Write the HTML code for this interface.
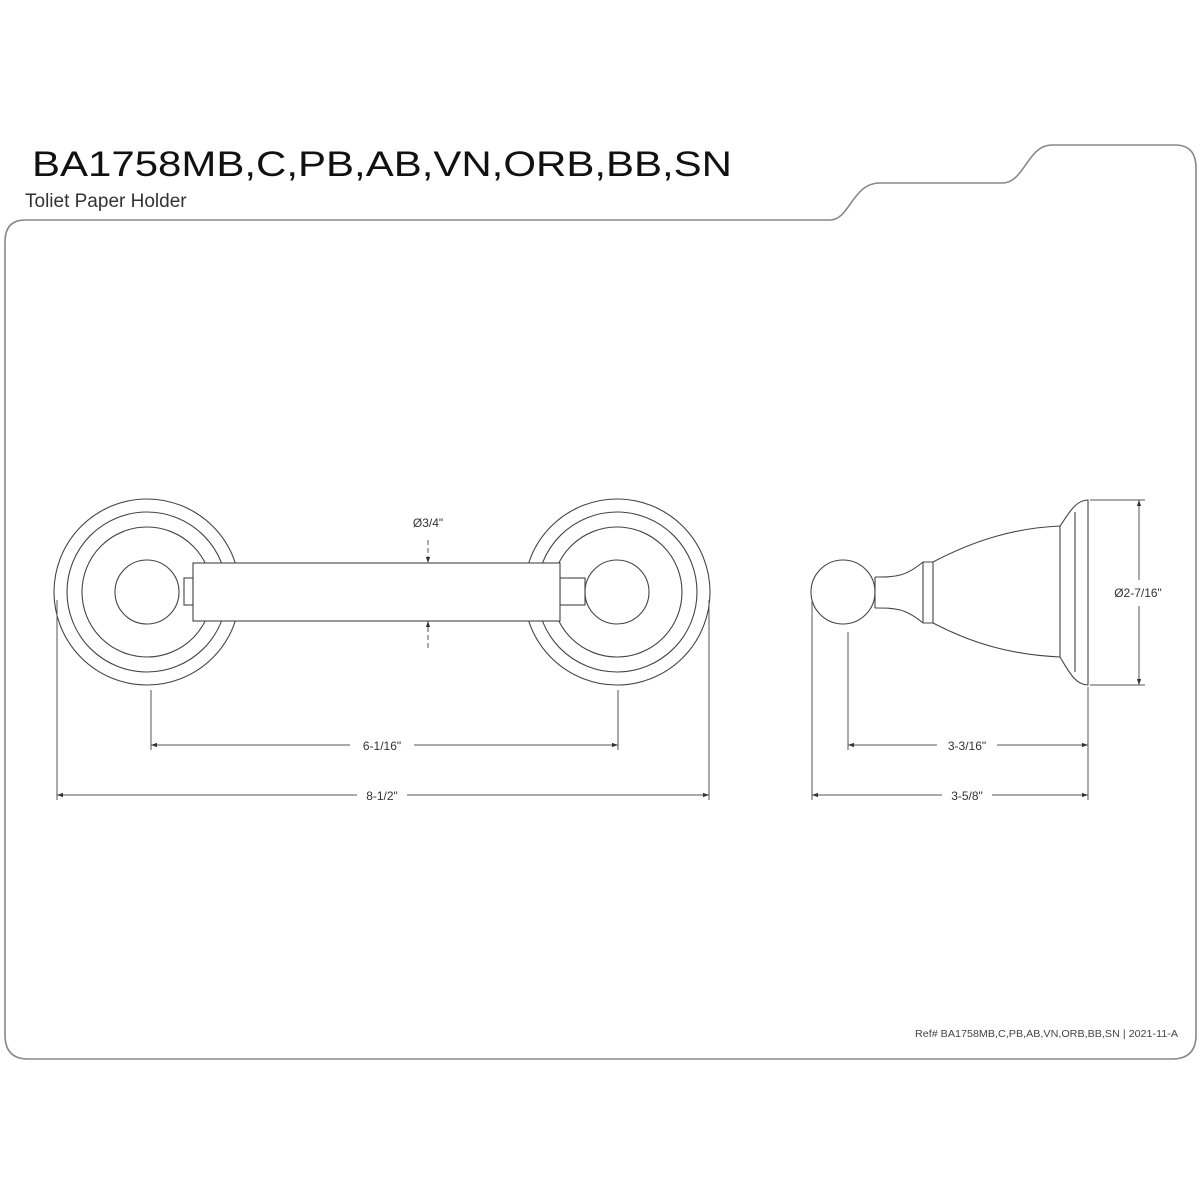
<!DOCTYPE html>
<html><head><meta charset="utf-8"><style>html,body{margin:0;padding:0;background:#fff}svg{display:block}</style></head>
<body>
<svg width="1200" height="1200" viewBox="0 0 1200 1200" xmlns="http://www.w3.org/2000/svg" font-family="Liberation Sans, sans-serif">
<defs>
<marker id="a" viewBox="0 0 10 10" refX="10" refY="5" markerWidth="8" markerHeight="6" orient="auto-start-reverse" markerUnits="userSpaceOnUse"><path d="M0,1.5 L10,5 L0,8.5 z" fill="#333"/></marker>
</defs>
<text x="32" y="176" font-size="35" fill="#111" textLength="700" lengthAdjust="spacingAndGlyphs">BA1758MB,C,PB,AB,VN,ORB,BB,SN</text>
<text x="25" y="207" font-size="19" fill="#333">Toliet Paper Holder</text>
<path d="M25,220 L830,220 C850,220 852,183 880,183 L1002,183 C1025,183 1027,145 1052,145 L1175,145 Q1196,145 1196,168 L1196,1035 Q1196,1059 1172,1059 L28,1059 Q5,1059 5,1035 L5,242 Q5,220 25,220 Z" fill="none" stroke="#888" stroke-width="1.6"/>
<text x="915" y="1037" font-size="10" fill="#444" textLength="263" lengthAdjust="spacingAndGlyphs">Ref# BA1758MB,C,PB,AB,VN,ORB,BB,SN | 2021-11-A</text>
<g fill="none" stroke="#444" stroke-width="1.1">
<circle cx="147" cy="592" r="93"/><circle cx="147" cy="592" r="80"/><circle cx="147" cy="592" r="65"/><circle cx="147" cy="592" r="32"/>
<circle cx="617" cy="592" r="93"/><circle cx="617" cy="592" r="80"/><circle cx="617" cy="592" r="65"/><circle cx="617" cy="592" r="32"/>
<rect x="184" y="578" width="9" height="27" fill="#fff"/>
<rect x="560" y="578" width="25" height="27" fill="#fff"/>
<rect x="193" y="563" width="367" height="58" fill="#fff"/>
</g>
<g stroke="#555" stroke-width="1" fill="none">
<line x1="428" y1="540" x2="428" y2="563" stroke-dasharray="5,3" marker-end="url(#a)"/>
<line x1="428" y1="648" x2="428" y2="621" stroke-dasharray="5,3" marker-end="url(#a)"/>
<line x1="151" y1="690" x2="151" y2="750"/><line x1="618" y1="690" x2="618" y2="750"/>
<line x1="151" y1="745" x2="350" y2="745" marker-start="url(#a)"/><line x1="414" y1="745" x2="618" y2="745" marker-end="url(#a)"/>
<line x1="57" y1="600" x2="57" y2="800"/><line x1="709" y1="600" x2="709" y2="800"/>
<line x1="57" y1="795" x2="357" y2="795" marker-start="url(#a)"/><line x1="407" y1="795" x2="709" y2="795" marker-end="url(#a)"/>
</g>
<text x="428" y="527" font-size="12" fill="#333" text-anchor="middle">Ø3/4"</text>
<text x="382" y="750" font-size="12" fill="#333" text-anchor="middle">6-1/16"</text>
<text x="382" y="800" font-size="12" fill="#333" text-anchor="middle">8-1/2"</text>
<g fill="none" stroke="#444" stroke-width="1.1">
<circle cx="843" cy="592" r="32"/>
<path d="M875,577 C895,577 905,577 923,562 L933,562 C975,540 1015,528 1060,526 L1060,657 C1015,655 975,645 933,623 L923,623 C905,608 895,608 875,608"/>
<line x1="875" y1="577" x2="875" y2="608"/>
<line x1="923" y1="562" x2="923" y2="623"/><line x1="933" y1="562" x2="933" y2="623"/>
<path d="M1060,526 C1068,515 1075,500 1088,500 L1088,685 C1075,685 1068,670 1060,657"/>
<line x1="1075" y1="512" x2="1075" y2="672"/>
</g>
<g stroke="#555" stroke-width="1" fill="none">
<line x1="1090" y1="500" x2="1145" y2="500"/><line x1="1090" y1="685" x2="1145" y2="685"/>
<line x1="1139" y1="580" x2="1139" y2="500" marker-end="url(#a)"/><line x1="1139" y1="606" x2="1139" y2="685" marker-end="url(#a)"/>
<line x1="848" y1="632" x2="848" y2="750"/><line x1="1088" y1="687" x2="1088" y2="800"/>
<line x1="812" y1="600" x2="812" y2="800"/>
<line x1="848" y1="745" x2="937" y2="745" marker-start="url(#a)"/><line x1="997" y1="745" x2="1088" y2="745" marker-end="url(#a)"/>
<line x1="812" y1="795" x2="942" y2="795" marker-start="url(#a)"/><line x1="992" y1="795" x2="1088" y2="795" marker-end="url(#a)"/>
</g>
<rect x="1105" y="582" width="65" height="20" fill="#fff"/>
<text x="1138" y="597" font-size="12" fill="#333" text-anchor="middle">Ø2-7/16"</text>
<text x="967" y="750" font-size="12" fill="#333" text-anchor="middle">3-3/16"</text>
<text x="967" y="800" font-size="12" fill="#333" text-anchor="middle">3-5/8"</text>
</svg>
</body></html>
